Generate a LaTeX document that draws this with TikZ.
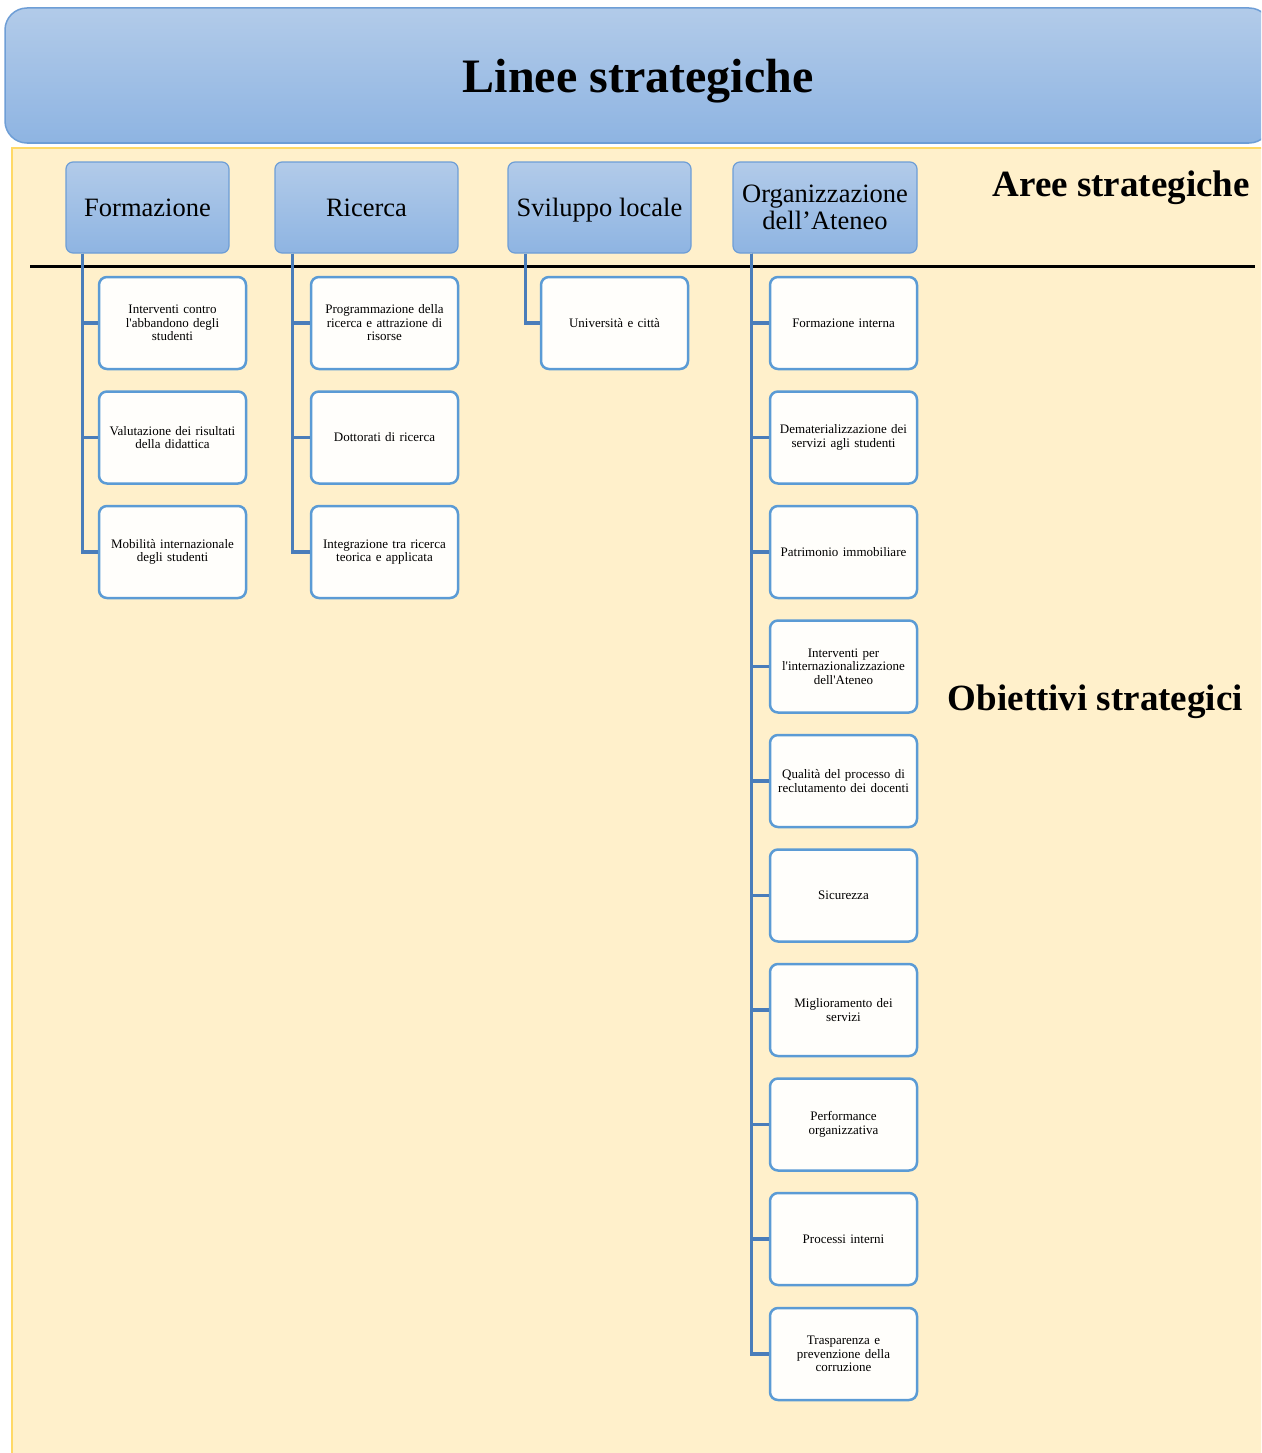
\documentclass[tikz,border=0pt]{standalone}
\usepackage{fontspec}
\setmainfont{Liberation Serif}
\newfontfamily\plainserif{Liberation Serif}
\definecolor{bgyellow}{HTML}{FFF0CB}
\definecolor{bgedge}{HTML}{FFD966}
\definecolor{topA}{HTML}{B2CBE9}
\definecolor{topB}{HTML}{8EB4E2}
\definecolor{boxedge}{HTML}{6E9ED6}
\definecolor{childedge}{HTML}{5B9BD5}
\definecolor{childfill}{HTML}{FFFEFB}
\definecolor{connblue}{HTML}{4A7DBA}
\begin{document}
\begin{tikzpicture}[x=1pt,y=-1pt,
  titlebox/.style={draw=boxedge,line width=1.5pt,rounded corners=22pt,top color=topA,bottom color=topB,
    minimum width=1266pt,minimum height=135pt,inner sep=0pt,text depth=0pt,font=\fontsize{48}{52}\selectfont\bfseries},
  areabox/.style={draw=boxedge,line width=1.2pt,rounded corners=7pt,top color=topA,bottom color=topB,
    minimum height=91pt,inner sep=0pt,align=center,font=\fontsize{26.5}{27}\selectfont},
  childbox/.style={draw=childedge,line width=2.5pt,rounded corners=8pt,fill=childfill,
    minimum width=147pt,minimum height=92pt,inner sep=0pt,text width=140pt,align=center,
    font=\plainserif\fontsize{13}{13.5}\selectfont},
  conn/.style={draw=connblue,line width=3.2pt},
  biglabel/.style={font=\fontsize{37}{40}\selectfont\bfseries,inner sep=0pt}
]
\clip (0,0) rectangle (1261,1453);
\fill[white] (0,0) rectangle (1261,1453);
% background panel
\draw[fill=bgyellow,draw=bgedge,line width=2pt] (12,148) rectangle (1280,1470);
% title
\node[titlebox] (title) at (638,75.5) {Linee strategiche};
% separator line
\coordinate (sepL) at (30,266);
\coordinate (sepR) at (1255,266);
\draw[line width=3pt,black] (sepL) -- (sepR);
% labels
\node[biglabel,anchor=east] (aree) at (1250,188) {Aree strategiche};
\node[biglabel,anchor=east] (obiet) at (1243,702) {Obiettivi strategici};
% areas
\node[areabox,minimum width=163pt] (F) at (147.5,207.5) {Formazione};
\node[areabox,minimum width=183pt] (R) at (366.5,207.5) {Ricerca};
\node[areabox,minimum width=183pt,text depth=0pt] (S) at (599.5,207.5) {Sviluppo locale};
\node[areabox,minimum width=184pt] (O) at (825,207.5) {Organizzazione\\dell’Ateneo};
% Formazione children
\node[childbox] (F1) at (172.5,323) {Interventi contro\\l'abbandono degli\\studenti};
\node[childbox] (F2) at (172.5,437.5) {Valutazione dei risultati\\della didattica};
\node[childbox] (F3) at (172.5,552) {Mobilità internazionale\\degli studenti};
% Ricerca children
\node[childbox] (R1) at (384.5,323) {Programmazione della\\ricerca e attrazione di\\risorse};
\node[childbox] (R2) at (384.5,437.5) {Dottorati di ricerca};
\node[childbox] (R3) at (384.5,552) {Integrazione tra ricerca\\teorica e applicata};
% Sviluppo child
\node[childbox] (S1) at (614.5,323) {Università e città};
% Organizzazione children
\node[childbox] (O1) at (843.5,323) {Formazione interna};
\node[childbox] (O2) at (843.5,437.5) {Dematerializzazione dei\\servizi agli studenti};
\node[childbox] (O3) at (843.5,552) {Patrimonio immobiliare};
\node[childbox] (O4) at (843.5,666.5) {Interventi per\\l'internazionalizzazione\\dell'Ateneo};
\node[childbox] (O5) at (843.5,781) {Qualità del processo di\\reclutamento dei docenti};
\node[childbox] (O6) at (843.5,895.5) {Sicurezza};
\node[childbox] (O7) at (843.5,1010) {Miglioramento dei\\servizi};
\node[childbox] (O8) at (843.5,1124.5) {Performance\\organizzativa};
\node[childbox] (O9) at (843.5,1239) {Processi interni};
\node[childbox] (O10) at (843.5,1354) {Trasparenza e\\prevenzione della\\corruzione};
% connectors
\foreach \c in {F1,F2,F3}{\draw[conn] ([xshift=17pt]F.south west) |- (\c.west);}
\foreach \c in {R1,R2,R3}{\draw[conn] ([xshift=18pt]R.south west) |- (\c.west);}
\draw[conn] ([xshift=18pt]S.south west) |- (S1.west);
\foreach \c in {O1,O2,O3,O4,O5,O6,O7,O8,O9,O10}{\draw[conn] ([xshift=19pt]O.south west) |- (\c.west);}
\end{tikzpicture}
\end{document}
